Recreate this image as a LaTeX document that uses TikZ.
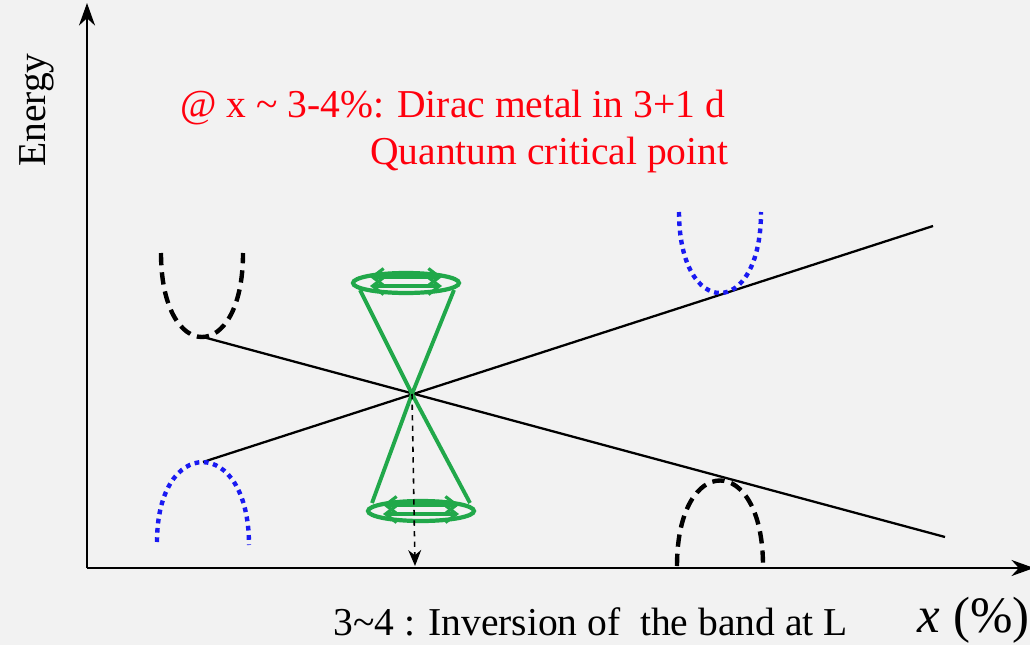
\documentclass[tikz,border=0pt]{standalone}
\usepackage{fontspec}
\setmainfont{Liberation Serif}
\usetikzlibrary{arrows.meta, positioning, calc, shapes.geometric}
\definecolor{TextRed}{rgb}{1, 0, 0.05}
\definecolor{ConeGreen}{rgb}{0.13, 0.66, 0.29}
\definecolor{BandBlue}{rgb}{0.1, 0.1, 0.95}
\definecolor{PaperGray}{rgb}{0.95, 0.95, 0.95}

\begin{document}
\begin{tikzpicture}[
    x=0.02cm, y=-0.02cm,
    axis/.style={-{Stealth[length=4.5mm, width=3.2mm]}, line width=1.5pt},
    band/.style={line width=1.3pt},
    darkband/.style={line width=2.5pt, dash pattern=on 7pt off 4pt},
    litband/.style={line width=2.5pt, BandBlue, dash pattern=on 2.7pt off 2.6pt},
    cone/.style={ConeGreen, line width=2.2pt},
    rim/.style={ellipse, draw=ConeGreen, line width=2.4pt, minimum width=2.12cm, minimum height=0.4cm, inner sep=0pt},
    spin/.style={ConeGreen, line width=1.8pt, {Straight Barb[length=2.2mm, width=3.4mm]}-{Straight Barb[length=2.2mm, width=3.4mm]}},
    drop/.style={dashed, line width=0.9pt, -{Stealth[length=3.2mm, width=2.6mm]}},
    caption/.style={font=\fontsize{22.5}{25}\selectfont, inner sep=0pt},
]

% --- fondo ---
\fill[PaperGray] (0,0) rectangle (1030,645);
\useasboundingbox (0,0) rectangle (1030,645);

% --- ejes ---
\coordinate (origin) at (87,568);
\coordinate (ytip) at (87,3);
\coordinate (xtip) at (1034,568);
\draw[axis] (origin) -- (ytip);
\draw[axis] (origin) -- (xtip);

% --- bandas ---
\coordinate (cb left) at (203,337);
\coordinate (vb left) at (203,462);
\coordinate (cb right) at (720,293);
\coordinate (vb right) at (720,480);
\coordinate (up end) at (933,226);
\coordinate (down end) at (945,537);
\draw[band] (vb left) -- (up end);
\draw[band] (cb left) -- (down end);

\draw[darkband] (161,253) .. controls (161,365) and (243,365) .. (243,253);
\draw[litband] (157,542) .. controls (157,435) and (249,435) .. (249,545);
\draw[litband] (679,212) .. controls (679,320) and (761,320) .. (761,212);
\draw[darkband] (677,566) .. controls (677,452) and (763,452) .. (763,566);

% --- cono de Dirac ---
\coordinate (dirac) at (412,394);
\node[rim] (upper) at (406,283) {};
\node[rim] (lower) at (421,511) {};
\draw[cone] ($(upper.center)+(-46,7)$) -- (dirac) -- ($(lower.center)+(49,-8)$);
\draw[cone] ($(upper.center)+(48,7)$) -- (dirac) -- ($(lower.center)+(-49,-8)$);
\draw[spin] ($(upper.center)+(-36,-6)$) -- ($(upper.center)+(36,-6)$);
\draw[spin] ($(upper.center)+(-36,3)$) -- ($(upper.center)+(36,3)$);
\draw[spin] ($(lower.center)+(-38,-6)$) -- ($(lower.center)+(38,-6)$);
\draw[spin] ($(lower.center)+(-38,3)$) -- ($(lower.center)+(38,3)$);

\coordinate (foot) at (415,566);
\draw[drop] (dirac) -- (foot);

% --- textos ---
\node[caption, rotate=90] (energy) at (37,110) {Energy};
\node[caption, TextRed, anchor=west] (metal) at (180,108) {@ x \textasciitilde{} 3-4\%: Dirac metal in 3+1 d};
\node[caption, TextRed, anchor=west] (qcp) at (370,155) {Quantum critical point};
\node[caption, anchor=west] (inversion) at (333,622) {3\textasciitilde4 : Inversion of\ \ the band at L};
\node[caption, font=\fontsize{29}{31}\selectfont, anchor=east] (xunit) at (1030,620) {\textit{x} (\%)};

\end{tikzpicture}
\end{document}
